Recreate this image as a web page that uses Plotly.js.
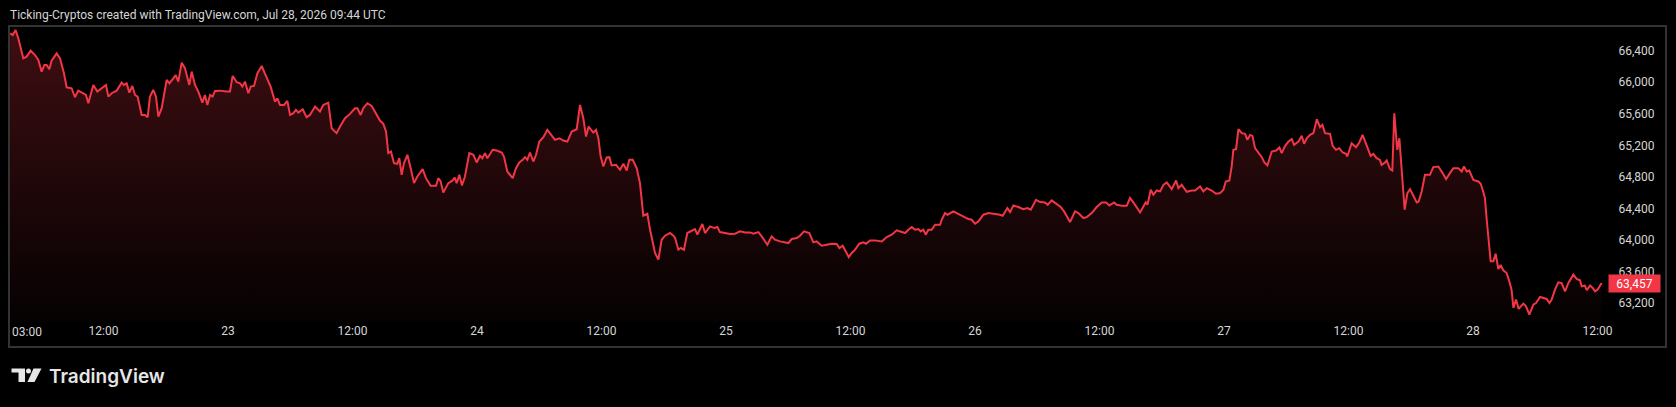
<!DOCTYPE html>
<html>
<head>
<meta charset="utf-8">
<script src="https://cdn.plot.ly/plotly-3.0.1.min.js"></script>
<style>
  html, body { margin: 0; padding: 0; background: #000; }
  #chart { width: 1676px; height: 407px; }
</style>
</head>
<body>
<div id="chart"></div>
<script>
// ---- DATA (hours since 2026-07-22 00:00, price in USD) ----
const hoursJul22 = [3.00,3.25,3.53,3.79,4.27,4.59,4.98,5.40,5.72,6.04,
6.30,6.52,6.78,7.00,7.49,7.81,8.19,8.45,8.93,9.25,
9.57,9.99,10.31,10.54,11.02,11.41,11.82,12.24,12.47,12.79,
13.27,13.75,13.98,14.23,14.49,14.78,15.04,15.29,15.68,16.00,
16.26,16.48,16.80,17.06,17.29,17.61,18.09,18.35,18.73,18.96,
19.21,19.54,19.86,20.27,20.50,20.82,21.14,21.53,21.78,22.01,
22.27,22.52,22.75,23.23,23.87,24.19,24.45,24.84,25.16,25.38,
25.64,25.96,26.19,26.51,26.83,27.25,27.57,27.89,28.11,28.53,
28.76,29.01,29.40,29.72,29.98,30.30,30.55,30.78,31.20,31.58,
31.90,32.39,32.87,33.19,33.67,33.99,34.47];
const priceJul22 = [66619,66598,66662,66556,66303,66324,66400,66345,66282,66135,
66219,66219,66164,66274,66366,66303,66113,65936,65924,65810,
65894,65861,65839,65734,65966,65882,65924,65966,65818,65861,
65894,65995,65966,65987,65869,65953,65839,65818,65586,65586,
65557,65818,65903,65818,65565,65671,66029,65987,66050,66092,
66008,66248,66177,65966,66135,65966,65882,65742,65839,65713,
65839,65818,65890,65894,65882,65882,66080,66000,65987,65945,
66008,65861,65945,65953,66113,66206,66105,66008,65945,65755,
65797,65713,65713,65764,65586,65608,65650,65616,65658,65557,
65586,65692,65629,65713,65742,65418,65355];

const hoursJul23 = [34.80,35.28,35.76,36.24,36.47,36.79,37.04,37.43,37.85,38.33,
38.65,38.97,39.23,39.45,39.71,40.00,40.32,40.51,40.74,40.96,
41.29,41.61,41.93,42.25,42.76,43.08,43.53,44.05,44.27,44.50,
44.75,45.24,45.65,45.85,46.04,46.30,46.55,46.84,47.26,47.65,
47.97,48.29,48.51,48.77,49.00,49.51,49.90,50.38,50.60,50.92,
51.44,51.76,52.08,52.40,52.63,52.85,53.11,53.43,53.69,54.01,
54.40,54.78,55.20,55.52,55.94,56.32,56.71,57.13,57.61,57.93,
58.25,58.51,58.76,59.21,59.47,59.70,59.92,60.18,60.50,60.76,
60.98,61.40,61.79,62.11,62.43,62.68,63.01,63.39,63.71,64.03,
64.42,64.68,65.16,65.48,65.80,66.12,66.60];
const priceJul23 = [65439,65544,65599,65671,65671,65586,65671,65734,65700,65586,
65515,65473,65376,65102,65123,64975,64967,65038,64828,64975,
65081,64912,64722,64806,64899,64785,64688,64688,64785,64743,
64604,64722,64756,64794,64722,64828,64693,64806,65102,65081,
64984,65068,65038,65102,65038,65144,65135,65110,65059,64870,
64785,64912,64984,65017,65051,65017,65110,64996,65081,65249,
65304,65397,65333,65270,65291,65262,65249,65376,65405,65713,
65544,65312,65439,65363,65397,65291,65059,64933,65047,65051,
64946,64954,64891,64967,64882,65017,65017,64912,64722,64309,
64334,64132,63837,63753,64005,64056,64090];

const hoursJul25 = [66.93,67.09,67.41,67.63,67.95,68.27,68.69,69.01,69.24,69.43,
69.72,69.98,70.46,70.88,71.17,71.42,71.91,72.39,72.87,73.35,
73.83,74.32,74.64,75.12,75.44,75.99,76.40,76.72,77.21,78.01,
78.33,78.81,79.13,79.52,80.03,80.42,80.74,81.22,81.71,82.19,
82.67,82.93,83.25,83.63,83.83,84.11,84.44,84.85,85.24,85.50,
85.88,86.36,87.01,87.49,87.97,88.45,88.77,89.26,89.58,89.90,
90.22,90.54,90.77,91.02,91.25,91.50,91.83,92.15,92.63,92.79,
93.11,93.34,93.91,94.40,94.94,95.36,95.68,96.00,96.32,96.81,
97.29,97.93,98.41];
const priceJul25 = [64056,64027,63879,63900,63879,64090,64124,64140,64069,64132,
64204,64090,64174,64153,64166,64102,64090,64077,64081,64111,
64098,64098,64081,64102,64048,63942,64048,64005,63984,63963,
64014,64027,64056,64111,64090,63972,63984,63930,63942,63955,
63951,63900,63930,63837,63786,63837,63879,63955,63972,63955,
63997,63997,63984,64039,64069,64124,64107,64090,64132,64166,
64132,64140,64111,64132,64069,64132,64132,64195,64195,64258,
64343,64322,64364,64334,64301,64267,64258,64208,64237,64322,
64343,64334,64322];

const hoursJul26 = [98.67,99.12,99.38,99.70,100.18,100.66,101.05,101.37,101.88,102.27,
102.75,103.01,103.39,103.81,104.26,104.58,104.90,105.16,105.64,105.96,
106.45,106.77,107.25,107.73,108.21,108.63,108.95,109.40,109.66,110.14,
110.62,110.94,111.27,111.59,111.91,112.23,112.45,112.62,112.94,113.19,
113.52,113.84,114.16,114.48,114.80,114.96,115.38,115.60,115.92,116.41,
116.89,117.21,117.69,118.01,118.33,118.82,119.23,119.62,119.94,120.17,
120.52,120.74,120.90,121.16,121.39,121.71,122.03,122.25,122.51,122.74,
122.99,123.31,123.64,123.89,124.18,124.60,125.02,125.34,125.56,125.89,
126.21,126.53,126.75,127.17,127.49,127.72,127.97,128.29,128.62,128.94,
129.26,129.48,129.74,130.22];
const priceJul26 = [64309,64406,64355,64440,64419,64393,64406,64385,64511,64482,
64478,64448,64503,64461,64419,64364,64292,64229,64364,64343,
64280,64292,64343,64419,64478,64478,64440,64478,64448,64435,
64435,64533,64478,64406,64351,64427,64478,64448,64638,64575,
64629,64617,64701,64731,64680,64646,64756,64659,64701,64613,
64629,64629,64680,64617,64659,64629,64587,64596,64638,64743,
64756,64933,65144,65152,65405,65355,65346,65270,65333,65321,
65165,65102,65051,64984,64946,65123,65135,65173,65102,65194,
65249,65279,65207,65249,65321,65220,65291,65333,65355,65532,
65430,65460,65355,65346];

const hoursJul27 = [130.47,130.79,131.11,131.43,131.76,131.88,132.30,132.72,133.04,133.36,
133.75,134.13,134.39,134.71,135.03,135.19,135.52,135.68,136.00,136.22,
136.41,136.70,136.90,137.15,137.41,137.67,137.93,138.25,138.57,138.76,
139.05,139.37,139.85,140.17,140.66,141.07,141.40,141.78,142.10,142.58,
142.91,143.13,143.39,143.64,144.03,144.51,144.74,144.93,145.15,145.32,
145.48,145.70,145.96,146.18,146.44,146.66,146.92,147.24,147.50,147.72,
147.89,148.14,148.40,148.85,149.11,149.43,149.81,150.07,150.46,150.84,
151.10,151.36,151.58,151.90,152.22,152.54,152.87,153.19,153.67,153.99,
154.31,154.47,154.79,154.95,155.28,155.53,155.76,156.01,156.40];
const priceJul27 = [65194,65144,65165,65110,65093,65059,65228,65178,65237,65333,
65207,65068,65093,65038,65017,64954,64984,65009,64899,64882,
65607,65144,65291,64806,64385,64596,64646,64562,64478,64490,
64617,64828,64828,64925,64933,64849,64773,64849,64912,64912,
64870,64933,64870,64882,64764,64743,64714,64638,64533,64258,
64005,63731,63731,63828,63634,63685,63618,63584,63478,63365,
63141,63247,63129,63196,63162,63057,63183,63204,63280,63268,
63255,63204,63247,63373,63466,63457,63352,63457,63563,63508,
63491,63415,63424,63365,63424,63394,63352,63373,63457];

const lastPrice = 63457;
const xTickHours = [12,24,36,48,60,72,84,96,108,120,132,144,156];
const xTickLabels = ['12:00','23','12:00','24','12:00','25','12:00','26','12:00','27','12:00','28','12:00'];
const firstTickHour = 3;
const firstTickLabel = '03:00';
const yTickValues = [63200,63600,64000,64400,64800,65200,65600,66000,66400];
const titleText = 'Ticking-Cryptos created with TradingView.com, Jul 28, 2026 09:44 UTC';
const brandText = 'TradingView';

// ---- helpers ----
const BASE = Date.UTC(2026, 6, 22, 0, 0, 0);
function toDate(h) {
  return new Date(BASE + h * 3600000).toISOString().replace('T', ' ').slice(0, 19);
}
const hours = [].concat(hoursJul22, hoursJul23, hoursJul25, hoursJul26, hoursJul27);
const prices = [].concat(priceJul22, priceJul23, priceJul25, priceJul26, priceJul27);
const xs = hours.map(toDate);

const W = 1676, H = 407;
const M = { l: 10, r: 71, t: 27, b: 85 };
const PW = W - M.l - M.r, PH = H - M.t - M.b;
const px = x => (x - M.l) / PW;          // pixel -> paper x
const py = y => (H - M.b - y) / PH;       // pixel -> paper y

const RED = '#F23645';
const TXT = '#d6d6d6';
const FONT = 'Roboto, "Noto Sans", sans-serif';

const trace = {
  type: 'scatter',
  mode: 'lines',
  x: xs,
  y: prices,
  line: { color: RED, width: 2 },
  fill: 'tozeroy',
  fillgradient: {
    type: 'vertical',
    start: 62960,
    stop: 66700,
    colorscale: [[0, 'rgba(242,54,69,0.02)'], [1, 'rgba(242,54,69,0.26)']]
  },
  hoverinfo: 'skip'
};

function poly(points) {
  return 'M' + points.map(p => px(p[0]) + ',' + py(p[1])).join(' L') + ' Z';
}

const shapes = [
  // panel border
  { type: 'rect', xref: 'paper', yref: 'paper', x0: px(9), x1: px(1666), y0: py(347), y1: py(26),
    line: { color: '#333333', width: 2 }, fillcolor: 'rgba(0,0,0,0)', layer: 'above' },
  // TradingView logo icon
  { type: 'path', xref: 'paper', yref: 'paper', layer: 'above', line: { width: 0 }, fillcolor: '#e6e6e6',
    path: poly([[11.5, 368.5], [25, 368.5], [25, 382], [18.5, 382], [18.5, 372.5], [11.5, 372.5]]) },
  { type: 'circle', xref: 'paper', yref: 'paper', layer: 'above', line: { width: 0 }, fillcolor: '#e6e6e6',
    x0: px(26), x1: px(31), y0: py(373.5), y1: py(368.5) },
  { type: 'path', xref: 'paper', yref: 'paper', layer: 'above', line: { width: 0 }, fillcolor: '#e6e6e6',
    path: poly([[33.5, 368.5], [41.5, 368.5], [34.5, 382], [27.5, 382]]) }
];

const annotations = [
  { xref: 'x', yref: 'paper', x: toDate(firstTickHour), y: py(332), text: firstTickLabel,
    xanchor: 'left', yanchor: 'middle', showarrow: false, xshift: 0,
    font: { family: FONT, size: 12, color: TXT } },
  { xref: 'paper', yref: 'y', x: 1, y: lastPrice, text: lastPrice.toLocaleString('en-US'),
    xanchor: 'left', yanchor: 'middle', showarrow: false, xshift: 3,
    bgcolor: RED, borderpad: 2, width: 47, height: 13, align: 'center',
    font: { family: FONT, size: 12, color: '#ffffff' } },
  { xref: 'paper', yref: 'paper', x: px(47), y: py(376), text: brandText,
    xanchor: 'left', yanchor: 'middle', showarrow: false,
    font: { family: 'Inter, Roboto, sans-serif', size: 19, weight: 600, color: '#e6e6e6' } }
];

const layout = {
  width: W, height: H,
  margin: M,
  paper_bgcolor: '#000000',
  plot_bgcolor: '#000000',
  showlegend: false,
  hovermode: false,
  title: {
    text: titleText,
    xref: 'container', yref: 'container',
    x: 10 / W, xanchor: 'left',
    y: 1 - 15 / H, yanchor: 'middle',
    font: { family: FONT, size: 12, color: TXT }
  },
  xaxis: {
    type: 'date',
    range: [toDate(2.99), toDate(156.72)],
    tickmode: 'array',
    tickvals: xTickHours.map(toDate),
    ticktext: xTickLabels,
    showgrid: false, zeroline: false, showline: false,
    ticks: '',
    tickfont: { family: FONT, size: 12, color: TXT },
    fixedrange: true
  },
  yaxis: {
    side: 'right',
    range: [62963, 66700],
    tickmode: 'array',
    tickvals: yTickValues,
    ticktext: yTickValues.map(v => v.toLocaleString('en-US')),
    showgrid: false, zeroline: false, showline: false,
    ticks: 'outside', ticklen: 10, tickcolor: 'rgba(0,0,0,0)',
    tickfont: { family: FONT, size: 12, color: TXT },
    fixedrange: true
  },
  shapes: shapes,
  annotations: annotations
};

Plotly.newPlot('chart', [trace], layout, { staticPlot: true, displayModeBar: false });
</script>
</body>
</html>
